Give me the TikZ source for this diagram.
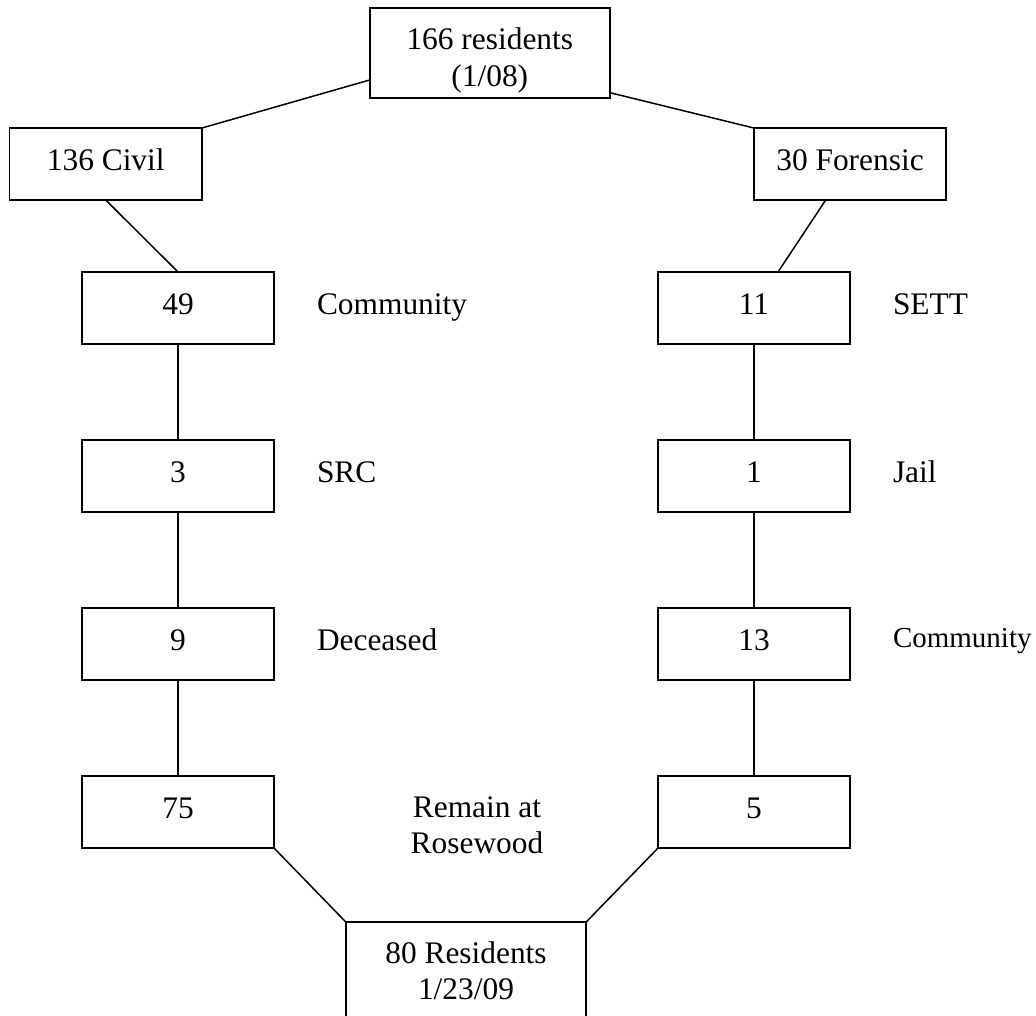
\documentclass[tikz,border=0pt]{standalone}
\usepackage{fontspec}
\setmainfont{Liberation Serif}
\usetikzlibrary{calc}
\newcommand\mainfs{\fontsize{31.4}{36.5}\selectfont}
\newcommand\smallfs{\fontsize{29}{34}\selectfont}
\begin{document}
\begin{tikzpicture}[x=1pt,y=-1pt,
  every node/.style={outer sep=0pt},
  box/.style={draw, line width=1.9pt, minimum width=192pt, minimum height=72pt,
    inner sep=0pt, text height=21.5pt, text depth=9pt, font=\mainfs},
  bigbox/.style={draw, line width=1.9pt, minimum width=240.4pt, inner xsep=0pt,
    align=center, font=\mainfs},
  lbl/.style={inner sep=0pt, font=\mainfs},
  conn/.style={line width=1.5pt}]
\clip (0,0) rectangle (1036,1015);
% boxes
\node[bigbox, minimum height=89.4pt, inner ysep=0pt, text height=73.5pt, text depth=7pt] (top) at (489.8,53) {166 residents\\(1/08)};
\node[box, minimum width=192.5pt] (civil) at (105.75,164) {136 Civil};
\node[box, minimum width=192.3pt] (foren) at (850,164) {30 Forensic};
\node[box] (n49) at (178,308) {49};
\node[box] (n3)  at (178,476) {3};
\node[box] (n9)  at (178,644) {9};
\node[box] (n75) at (178,812) {75};
\node[box] (n11) at (754,308) {11};
\node[box] (n1)  at (754,476) {1};
\node[box] (n13) at (754,644) {13};
\node[box] (n5)  at (754,812) {5};
\node[bigbox, anchor=north, inner ysep=19.5pt, text height=58pt] (bot) at (466,922) {80 Residents\\1/23/09};
% labels
\node[lbl, anchor=base west] (lcomm) at ($(n49.base)+(139,0)$) {Community};
\node[lbl, anchor=base west] (lsrc) at ($(n3.base)+(139,0)$) {SRC};
\node[lbl, anchor=base west] (ldec) at ($(n9.base)+(139,0)$) {Deceased};
\node[lbl, align=center, anchor=base] (lrem) at ($(n75.base)+(299,35.5)$) {Remain at\\Rosewood};
\node[lbl, anchor=base west] (lsett) at ($(n11.base)+(139,0)$) {SETT};
\node[lbl, anchor=base west] (ljail) at ($(n1.base)+(139,0)$) {Jail};
\node[lbl, font=\smallfs, anchor=base west] (lcomm2) at ($(n13.base)+(139,-2.7)$) {Community};
% connectors
\draw[conn] ($(top.west)+(0,27)$) -- (civil.north east);
\draw[conn] ($(top.east)+(0,39.7)$) -- (foren.north west);
\draw[conn] (civil.south) -- (n49.north);
\draw[conn] ($(foren.south)+(-24.3,0)$) -- ($(n11.north)+(24,0)$);
\draw[conn] (n49) -- (n3);
\draw[conn] (n3) -- (n9);
\draw[conn] (n9) -- (n75);
\draw[conn] (n11) -- (n1);
\draw[conn] (n1) -- (n13);
\draw[conn] (n13) -- (n5);
\draw[conn] (n75.south east) -- (bot.north west);
\draw[conn] (n5.south west) -- (bot.north east);
\end{tikzpicture}
\end{document}
